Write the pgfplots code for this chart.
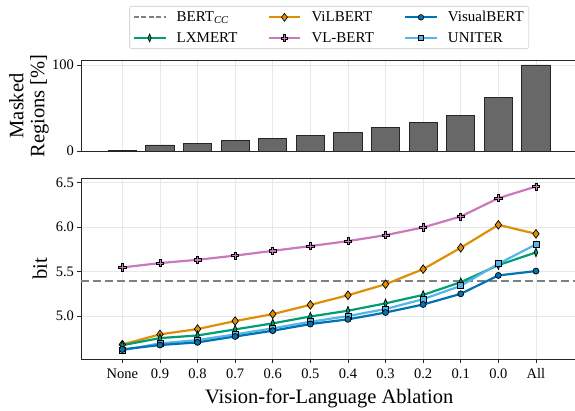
\documentclass[border=0pt]{standalone}
\usepackage{fontspec}
\setmainfont{Liberation Serif}
\usepackage{pgfplots}
\pgfplotsset{compat=1.18}

\definecolor{cbBlue}{HTML}{0173B2}
\definecolor{cbOrange}{HTML}{DE8F05}
\definecolor{cbGreen}{HTML}{029E73}
\definecolor{cbPink}{HTML}{CC78BC}
\definecolor{cbLight}{HTML}{56B4E9}
\definecolor{barGray}{HTML}{686868}

% filled plus marker (matplotlib 'P')
\pgfdeclareplotmark{Pfill}{%
  \pgfpathmoveto{\pgfqpoint{-0.3\pgfplotmarksize}{\pgfplotmarksize}}%
  \pgfpathlineto{\pgfqpoint{0.3\pgfplotmarksize}{\pgfplotmarksize}}%
  \pgfpathlineto{\pgfqpoint{0.3\pgfplotmarksize}{0.3\pgfplotmarksize}}%
  \pgfpathlineto{\pgfqpoint{\pgfplotmarksize}{0.3\pgfplotmarksize}}%
  \pgfpathlineto{\pgfqpoint{\pgfplotmarksize}{-0.3\pgfplotmarksize}}%
  \pgfpathlineto{\pgfqpoint{0.3\pgfplotmarksize}{-0.3\pgfplotmarksize}}%
  \pgfpathlineto{\pgfqpoint{0.3\pgfplotmarksize}{-\pgfplotmarksize}}%
  \pgfpathlineto{\pgfqpoint{-0.3\pgfplotmarksize}{-\pgfplotmarksize}}%
  \pgfpathlineto{\pgfqpoint{-0.3\pgfplotmarksize}{-0.3\pgfplotmarksize}}%
  \pgfpathlineto{\pgfqpoint{-\pgfplotmarksize}{-0.3\pgfplotmarksize}}%
  \pgfpathlineto{\pgfqpoint{-\pgfplotmarksize}{0.3\pgfplotmarksize}}%
  \pgfpathlineto{\pgfqpoint{-0.3\pgfplotmarksize}{0.3\pgfplotmarksize}}%
  \pgfpathclose
  \pgfusepathqfillstroke
}

\pgfplotsset{
  panel/.style={
    scale only axis,
    width=496.3pt,
    xmin=-1.1, xmax=12.1,
    xtick={0,...,11},
    axis line style={black!85, line width=0.9pt},
    grid=major,
    major grid style={black!9, line width=0.6pt},
    tick align=outside,
    tick pos=left,
    major tick length=3.5pt,
    tick style={black!85, line width=0.8pt},
    ticklabel style={font=\fontsize{14.5}{16}\selectfont},
    label style={font=\fontsize{20.5}{21}\selectfont},
    /pgf/number format/assume math mode=true,
  },
  model/.style={line width=2.2pt},
}

\begin{document}
\begin{tikzpicture}
\useasboundingbox (-81pt,-51pt) rectangle (494pt,359pt);

% bottom panel: information in bits
\begin{axis}[
  panel,
  at={(0pt,0pt)}, anchor=south west,
  height=181pt,
  ymin=4.517, ymax=6.553,
  ytick={5.0,5.5,6.0,6.5},
  yticklabel style={/pgf/number format/fixed, /pgf/number format/fixed zerofill, /pgf/number format/precision=1},
  xticklabel style={yshift=-2.5pt},
  xticklabels={None,0.9,0.8,0.7,0.6,0.5,0.4,0.3,0.2,0.1,0.0,All},
  xlabel={Vision-for-Language Ablation},
  ylabel={bit},
  ylabel style={at={(axis description cs:-0.083,0.5)}, anchor=center},
  xlabel style={at={(axis description cs:0.5,0)}, anchor=base, yshift=-44pt},
]
\addplot[gray, line width=1.8pt, dash pattern=on 8pt off 4pt] coordinates {(-1.1,5.395) (12.1,5.395)};
\addplot[model, cbPink, mark=Pfill, mark size=3.6pt, mark options={draw=black, line width=0.7pt, fill=cbPink}] coordinates {
  (0,5.547) (1,5.596) (2,5.633) (3,5.680) (4,5.734) (5,5.787)
  (6,5.843) (7,5.910) (8,5.997) (9,6.120) (10,6.326) (11,6.457)};
\addplot[model, cbOrange, mark=diamond*, mark size=4.3pt, mark options={draw=black, line width=0.7pt, fill=cbOrange}] coordinates {
  (0,4.680) (1,4.794) (2,4.854) (3,4.944) (4,5.022) (5,5.126)
  (6,5.234) (7,5.358) (8,5.528) (9,5.768) (10,6.026) (11,5.925)};
\addplot[model, cbGreen, mark=diamond*, mark size=4.3pt, mark options={draw=black, line width=0.7pt, fill=cbGreen, xscale=0.55}] coordinates {
  (0,4.672) (1,4.752) (2,4.782) (3,4.850) (4,4.918) (5,4.995)
  (6,5.060) (7,5.143) (8,5.238) (9,5.381) (10,5.573) (11,5.716)};
\addplot[model, cbLight, mark=square*, mark size=3pt, mark options={draw=black, line width=0.7pt, fill=cbLight}] coordinates {
  (0,4.615) (1,4.693) (2,4.730) (3,4.794) (4,4.862) (5,4.936)
  (6,5.000) (7,5.079) (8,5.190) (9,5.340) (10,5.588) (11,5.806)};
\addplot[model, cbBlue, mark=*, mark size=3pt, mark options={draw=black, line width=0.7pt, fill=cbBlue}] coordinates {
  (0,4.625) (1,4.674) (2,4.704) (3,4.770) (4,4.835) (5,4.910)
  (6,4.963) (7,5.040) (8,5.130) (9,5.250) (10,5.457) (11,5.506)};
\end{axis}

% top panel: share of masked regions
\begin{axis}[
  panel,
  at={(0pt,208pt)}, anchor=south west,
  height=90.3pt,
  ymin=0, ymax=105,
  ytick={0,100},
  xticklabels={},
  xtick style={draw=none},
  ylabel={Masked\\Regions [\%]},
  ylabel style={align=center, at={(axis description cs:-0.105,0.5)}, anchor=center},
  legend columns=3,
  legend cell align=left,
  legend style={
    at={(axis description cs:0.5,1.606)}, anchor=north,
    font=\fontsize{15}{18}\selectfont,
    draw=black!15, rounded corners=2pt, line width=0.8pt,
    inner xsep=3pt, inner ysep=3pt, row sep=5pt,
    /tikz/every odd column/.append style={column sep=8pt},
    /tikz/every even column/.append style={column sep=28pt},
  },
  legend image code/.code={\draw[mark repeat=2, mark phase=2] plot coordinates {(0cm,0cm) (0.56cm,0cm) (1.12cm,0cm)};},
]
\addplot[ybar, bar width=0.75, fill=barGray, draw=black!85, line width=0.8pt, forget plot] coordinates {
  (0,0.3) (1,7) (2,9) (3,12) (4,15) (5,18) (6,22) (7,27.3) (8,33) (9,41.5) (10,62.6) (11,100)};
% legend entries, row-wise
\addlegendimage{gray, line width=1.8pt, dash pattern=on 5pt off 2.5pt}
\addlegendentry{BERT\textsubscript{\textit{CC}}}
\addlegendimage{model, cbOrange, mark=diamond*, mark size=4pt, mark options={draw=black, line width=0.6pt, fill=cbOrange}}
\addlegendentry{ViLBERT}
\addlegendimage{model, cbBlue, mark=*, mark size=2.8pt, mark options={draw=black, line width=0.6pt, fill=cbBlue}}
\addlegendentry{VisualBERT}
\addlegendimage{model, cbGreen, mark=diamond*, mark size=4pt, mark options={draw=black, line width=0.6pt, fill=cbGreen, xscale=0.55}}
\addlegendentry{LXMERT}
\addlegendimage{model, cbPink, mark=Pfill, mark size=3.3pt, mark options={draw=black, line width=0.6pt, fill=cbPink}}
\addlegendentry{VL-BERT}
\addlegendimage{model, cbLight, mark=square*, mark size=2.8pt, mark options={draw=black, line width=0.6pt, fill=cbLight}}
\addlegendentry{UNITER}
\end{axis}
\end{tikzpicture}
\end{document}
